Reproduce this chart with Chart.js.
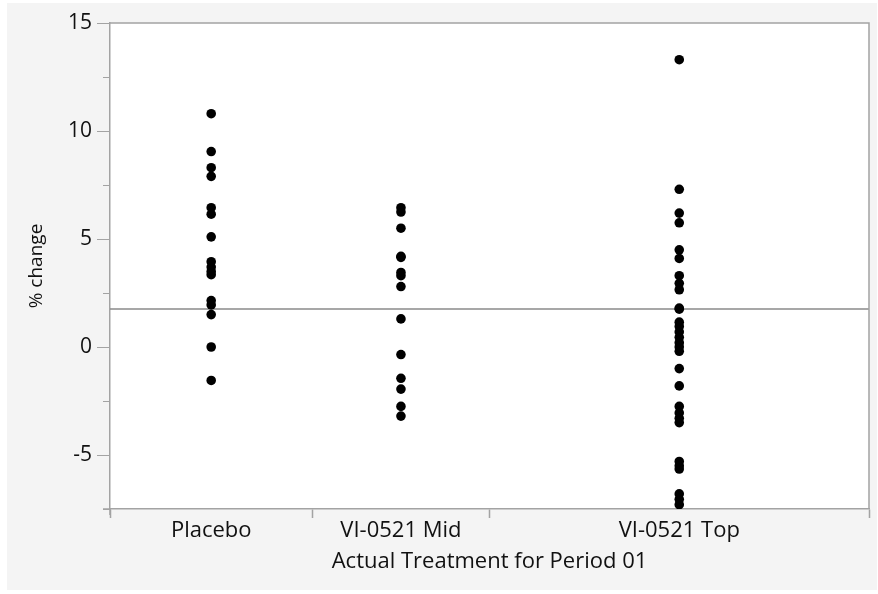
<!DOCTYPE html>
<html><head><meta charset="utf-8">
<script src="https://cdn.jsdelivr.net/npm/chart.js@4/dist/chart.umd.min.js"></script>
<style>html,body{margin:0;padding:0;background:#fff;}canvas{display:block;}</style>
</head><body>
<canvas id="c" width="878" height="594"></canvas>
<script>
// ---- data ----
const categories = ["Placebo", "VI-0521 Mid", "VI-0521 Top"];
const placeboValues = [10.8, 9.05, 8.3, 7.9, 6.45, 6.15, 5.1, 3.95, 3.7, 3.5, 3.35, 2.15, 1.95, 1.5, 0.0, -1.55];
const midValues = [6.45, 6.25, 5.5, 4.2, 4.15, 3.45, 3.3, 2.8, 1.3, -0.35, -1.45, -1.95, -2.75, -3.2];
const topValues = [13.3, 7.3, 6.2, 5.75, 4.5, 4.1, 3.3, 2.95, 2.65, 1.8, 1.75, 1.15, 0.95, 0.7, 0.45, 0.2, 0.0, -0.2, -1.0, -1.8, -2.75, -3.05, -3.3, -3.5, -5.3, -5.5, -5.65, -6.8, -7.05, -7.3];
const grandMean = 1.76;
const yMin = -7.5, yMax = 15, yStep = 2.5;
const yLabelStep = 5;

// ---- derived layout of the proportional x axis (widths follow group sizes) ----
const groups = [placeboValues, midValues, topValues];
const boundaries = [0];
groups.forEach(g => boundaries.push(boundaries[boundaries.length - 1] + g.length));
const centers = groups.map((g, i) => (boundaries[i] + boundaries[i + 1]) / 2);
const xMax = boundaries[boundaries.length - 1];

const FONT = "'Open Sans', 'Noto Sans', sans-serif";
const AXIS_GREY = '#a3a3a3';
const TEXT = '#111111';

const bgPlugin = {
  id: 'bg',
  beforeDraw(chart) {
    const {ctx, chartArea: a} = chart;
    ctx.save();
    ctx.fillStyle = '#ffffff';
    ctx.fillRect(0, 0, chart.width, chart.height);
    ctx.fillStyle = '#f4f4f4';
    ctx.fillRect(7, 3, 870, 587);
    ctx.fillStyle = '#ffffff';
    ctx.fillRect(a.left, a.top, a.right - a.left, a.bottom - a.top);
    ctx.restore();
  },
  afterDraw(chart) {
    const {ctx, chartArea: a, scales} = chart;
    ctx.save();
    ctx.strokeStyle = AXIS_GREY;
    ctx.lineWidth = 1.5;
    ctx.beginPath();
    ctx.moveTo(a.left, a.top); ctx.lineTo(a.right, a.top); ctx.lineTo(a.right, a.bottom);
    ctx.moveTo(a.left, a.bottom); ctx.lineTo(a.left, a.bottom + 6);
    ctx.moveTo(a.left - 7, a.bottom); ctx.lineTo(a.left, a.bottom);
    ctx.stroke();
    const ys = scales.y;
    ctx.lineWidth = 1;
    ctx.beginPath();
    for (let v = yMin; v <= yMax + 1e-9; v += yStep) {
      if (Math.abs(v % yLabelStep) > 1e-9) {
        const py = Math.round(ys.getPixelForValue(v)) + 0.5;
        ctx.moveTo(a.left - 7, py); ctx.lineTo(a.left, py);
      }
    }
    ctx.stroke();
    ctx.restore();
  }
};

const pointStyle = {
  type: 'scatter',
  backgroundColor: '#000000',
  borderColor: '#000000',
  borderWidth: 0,
  pointRadius: 4.8,
  pointHoverRadius: 4.8
};

const datasets = [
  {
    type: 'line',
    label: 'Mean',
    data: [{x: 0, y: grandMean}, {x: xMax, y: grandMean}],
    borderColor: '#8a8a8a',
    borderWidth: 1.5,
    pointRadius: 0,
    order: 2
  }
].concat(groups.map((g, i) => Object.assign({}, pointStyle, {
  label: categories[i],
  data: g.map(v => ({x: centers[i], y: v})),
  order: 1
})));

new Chart(document.getElementById('c'), {
  data: {datasets},
  options: {
    responsive: false,
    animation: false,
    events: [],
    layout: {padding: {top: 23, right: 9, left: 0, bottom: 0}},
    plugins: {legend: {display: false}, tooltip: {enabled: false}},
    scales: {
      x: {
        type: 'linear',
        min: 0,
        max: xMax,
        afterFit(scale) { scale.height = 85; },
        afterBuildTicks(scale) {
          scale.ticks = boundaries.concat(centers).sort((a, b) => a - b).map(v => ({value: v}));
        },
        ticks: {
          autoSkip: false,
          maxRotation: 0,
          padding: 0,
          color: TEXT,
          font: {family: FONT, size: 22},
          callback(value) {
            const i = centers.indexOf(value);
            return i >= 0 ? categories[i] : '';
          }
        },
        grid: {
          drawOnChartArea: false,
          tickLength: 9,
          tickWidth: 1.5,
          tickColor: ctx => (ctx.tick && centers.indexOf(ctx.tick.value) >= 0) ? 'rgba(0,0,0,0)' : AXIS_GREY
        },
        border: {color: AXIS_GREY, width: 1.5},
        title: {
          display: true,
          text: 'Actual Treatment for Period 01',
          color: TEXT,
          font: {family: FONT, size: 22},
          padding: {top: 0, bottom: 19}
        }
      },
      y: {
        type: 'linear',
        min: yMin,
        max: yMax,
        afterFit(scale) { scale.width = 110; },
        ticks: {
          stepSize: yStep,
          padding: 5,
          color: TEXT,
          font: {family: FONT, size: 21},
          callback(value) {
            return Math.abs(value % yLabelStep) < 1e-9 ? String(value) : '';
          }
        },
        grid: {
          drawOnChartArea: false,
          tickLength: 13,
          tickWidth: 1,
          tickColor: ctx => (ctx.tick && Math.abs(ctx.tick.value % yLabelStep) < 1e-9) ? AXIS_GREY : 'rgba(0,0,0,0)'
        },
        border: {color: AXIS_GREY, width: 1.5},
        title: {
          display: true,
          text: '% change',
          color: TEXT,
          font: {family: FONT, size: 19},
          padding: {top: 25, bottom: 0}
        }
      }
    }
  },
  plugins: [bgPlugin]
});
</script>
</body></html>
